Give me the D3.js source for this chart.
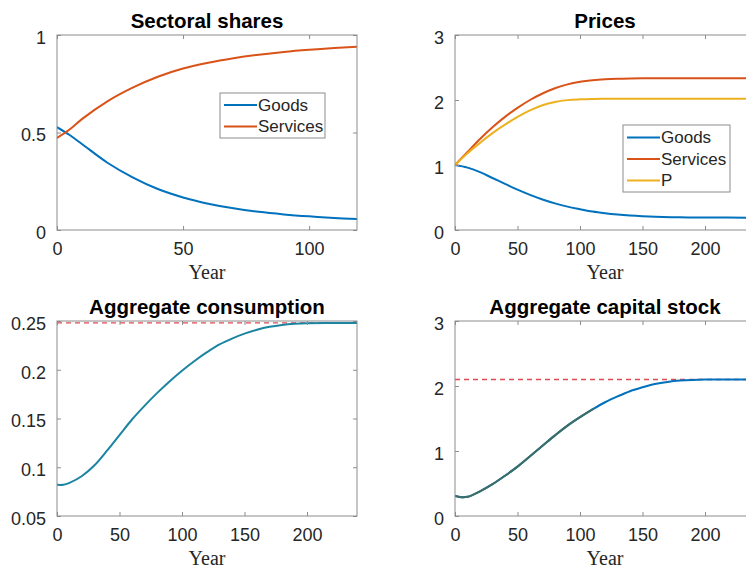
<!DOCTYPE html>
<html>
<head>
<meta charset="utf-8">
<script src="https://cdn.jsdelivr.net/npm/d3@7"></script>
<style>
  html, body { margin: 0; padding: 0; background: #ffffff; overflow: hidden; }
  svg { display: block; }
</style>
</head>
<body>
<svg id="chart" width="746" height="572"></svg>
<script>
// ---------------- DATA ----------------
const shareYears     = [0, 5, 10, 20, 30, 40, 50, 60, 70, 80, 90, 100, 110, 119];
const goodsShare     = [0.527, 0.487, 0.44, 0.345, 0.27, 0.21, 0.167, 0.135, 0.111, 0.093, 0.08, 0.07, 0.062, 0.056];
const servicesShare  = [0.472, 0.515, 0.57, 0.66, 0.73, 0.786, 0.828, 0.858, 0.881, 0.899, 0.913, 0.924, 0.933, 0.94];

const priceYears     = [0, 10, 20, 30, 40, 50, 60, 70, 80, 90, 100, 110, 120, 130, 140, 150, 160, 180, 200, 240];
const goodsPrice     = [1.0, 0.96, 0.89, 0.80, 0.71, 0.62, 0.54, 0.47, 0.41, 0.36, 0.32, 0.283, 0.257, 0.237, 0.222, 0.211, 0.203, 0.195, 0.192, 0.19];
const servicesPrice  = [1.0, 1.2, 1.4, 1.58, 1.74, 1.88, 2.0, 2.1, 2.18, 2.24, 2.28, 2.305, 2.32, 2.328, 2.332, 2.334, 2.335, 2.335, 2.335, 2.335];
const aggPrice       = [1.0, 1.18, 1.34, 1.49, 1.62, 1.74, 1.84, 1.92, 1.97, 1.998, 2.01, 2.016, 2.019, 2.02, 2.02, 2.02, 2.02, 2.02, 2.02, 2.02];

const consYears      = [0, 5, 10, 20, 30, 40, 50, 60, 70, 80, 90, 100, 110, 120, 130, 140, 150, 160, 170, 180, 190, 200, 220, 240];
const consumption    = [0.082, 0.082, 0.084, 0.091, 0.102, 0.117, 0.133, 0.149, 0.163, 0.176, 0.188, 0.199, 0.209, 0.218, 0.226, 0.232, 0.237, 0.241, 0.244, 0.246, 0.2472, 0.2478, 0.248, 0.248];
const consSteady     = 0.248;

const capYears       = [0, 5, 10, 20, 30, 40, 50, 60, 70, 80, 90, 100, 110, 120, 130, 140, 150, 160, 170, 180, 190, 200, 220, 240];
const capital        = [0.31, 0.29, 0.295, 0.38, 0.49, 0.62, 0.76, 0.92, 1.08, 1.24, 1.39, 1.52, 1.64, 1.75, 1.84, 1.92, 1.98, 2.03, 2.062, 2.083, 2.094, 2.099, 2.1, 2.1];
const capSteady      = 2.1;
const capDarkUntil   = 110;

const titles   = ["Sectoral shares", "Prices", "Aggregate consumption", "Aggregate capital stock"];
const xLabel   = "Year";
const xTicksShort = [0, 50, 100];
const xTicksLong  = [0, 50, 100, 150, 200];
const yTicksShares = [0, 0.5, 1];
const yTicksPrices = [0, 1, 2, 3];
const yTicksCons   = [0.05, 0.1, 0.15, 0.2, 0.25];
const yTicksCap    = [0, 1, 2, 3];
const shareLegend  = ["Goods", "Services"];
const priceLegend  = ["Goods", "Services", "P"];

// ---------------- STYLE ----------------
const C_BLUE = "#0072BD", C_ORANGE = "#D95319", C_YELLOW = "#EDB120";
const C_TEAL = "#1b84a0", C_DARK = "#3c6e66", C_RED = "#de4a52";
const AXIS_COLOR = "#8c8c8c", TEXT_COLOR = "#262626";
const SANS = "'Liberation Sans', Arial, Helvetica, sans-serif";
const SERIF = "'Liberation Serif', 'Times New Roman', serif";

const svg = d3.select("#chart");
const W = 300, H = 195;
const panels = [
  {left: 57,  top: 35,  xDomain: [0, 119], yDomain: [0, 1],     xTicks: xTicksShort, yTicks: yTicksShares, fmt: d3.format("")},
  {left: 455, top: 35,  xDomain: [0, 240], yDomain: [0, 3],     xTicks: xTicksLong,  yTicks: yTicksPrices, fmt: d3.format("")},
  {left: 57,  top: 321, xDomain: [0, 240], yDomain: [0.05, 0.25], xTicks: xTicksLong, yTicks: yTicksCons, fmt: d3.format("")},
  {left: 455, top: 321, xDomain: [0, 240], yDomain: [0, 3],     xTicks: xTicksLong,  yTicks: yTicksCap,    fmt: d3.format("")}
];

function drawPanel(p, i) {
  const g = svg.append("g").attr("transform", `translate(${p.left},${p.top})`);
  const x = d3.scaleLinear().domain(p.xDomain).range([0, W]);
  const y = d3.scaleLinear().domain(p.yDomain).range([H, 0]);
  p.x = x; p.y = y; p.g = g;

  g.append("clipPath").attr("id", "clip" + i)
    .append("rect").attr("x", 0).attr("y", 0).attr("width", W).attr("height", H);
  p.plot = g.append("g").attr("clip-path", `url(#clip${i})`);

  const xb = g.append("g").attr("transform", `translate(0,${H})`)
    .call(d3.axisBottom(x).tickValues(p.xTicks).tickSizeInner(-4).tickSizeOuter(0).tickPadding(10).tickFormat(p.fmt));
  const xt = g.append("g")
    .call(d3.axisTop(x).tickValues(p.xTicks).tickSizeInner(-4).tickSizeOuter(0).tickFormat(""));
  const yl = g.append("g")
    .call(d3.axisLeft(y).tickValues(p.yTicks).tickSizeInner(-4).tickSizeOuter(0).tickPadding(11).tickFormat(p.fmt));
  const yr = g.append("g").attr("transform", `translate(${W},0)`)
    .call(d3.axisRight(y).tickValues(p.yTicks).tickSizeInner(-4).tickSizeOuter(0).tickFormat(""));

  [xb, xt, yl, yr].forEach(a => {
    a.select(".domain").remove();
    a.selectAll(".tick line").attr("stroke", AXIS_COLOR).attr("stroke-width", 1);
    a.selectAll(".tick text").attr("fill", TEXT_COLOR).style("font-family", SANS).style("font-size", "18px");
  });
  xb.selectAll(".tick text").attr("dy", "0.71em").attr("y", 12);
  yl.selectAll(".tick text").attr("dy", "0.35em").attr("y", 2);

  g.append("rect").attr("x", 0).attr("y", 0).attr("width", W).attr("height", H)
    .attr("fill", "none").attr("stroke", AXIS_COLOR).attr("stroke-width", 1);

  g.append("text").attr("x", W / 2).attr("y", -7).attr("text-anchor", "middle")
    .style("font-family", SANS).style("font-weight", "bold").style("font-size", "20.5px")
    .attr("fill", "#000").text(titles[i]);

  g.append("text").attr("x", W / 2).attr("y", H + 49).attr("text-anchor", "middle")
    .style("font-family", SERIF).style("font-size", "20px")
    .attr("fill", TEXT_COLOR).text(xLabel);
}

function addLine(p, xs, ys, color, width, dash) {
  const data = xs.map((d, k) => [d, ys[k]]);
  const line = d3.line().x(d => p.x(d[0])).y(d => p.y(d[1])).curve(d3.curveCatmullRom.alpha(0.5));
  const path = p.plot.append("path").datum(data).attr("d", line)
    .attr("fill", "none").attr("stroke", color).attr("stroke-width", width)
    .attr("stroke-linejoin", "round").attr("stroke-linecap", "round");
  if (dash) path.attr("stroke-dasharray", dash).attr("stroke-linecap", "butt");
  return path;
}

function addLegend(p, box, entries, colors) {
  const g = svg.append("g");
  g.append("rect").attr("x", box.x).attr("y", box.y).attr("width", box.w).attr("height", box.h)
    .attr("fill", "#fff").attr("stroke", AXIS_COLOR).attr("stroke-width", 1);
  entries.forEach((e, k) => {
    const cy = box.y + box.first + k * box.step;
    g.append("line").attr("x1", box.x + 4).attr("x2", box.x + 37).attr("y1", cy).attr("y2", cy)
      .attr("stroke", colors[k]).attr("stroke-width", 2);
    g.append("text").attr("x", box.x + 38).attr("y", cy).attr("dy", "0.35em")
      .style("font-family", SANS).style("font-size", "17px").attr("fill", TEXT_COLOR).text(e);
  });
}

panels.forEach(drawPanel);

addLine(panels[0], shareYears, goodsShare, C_BLUE, 2);
addLine(panels[0], shareYears, servicesShare, C_ORANGE, 2);
addLegend(panels[0], {x: 220, y: 93, w: 105, h: 45, first: 12, step: 21.5}, shareLegend, [C_BLUE, C_ORANGE]);

addLine(panels[1], priceYears, goodsPrice, C_BLUE, 2);
addLine(panels[1], priceYears, servicesPrice, C_ORANGE, 2);
addLine(panels[1], priceYears, aggPrice, C_YELLOW, 2);
addLegend(panels[1], {x: 623, y: 125, w: 107, h: 67, first: 12.5, step: 21.5}, priceLegend, [C_BLUE, C_ORANGE, C_YELLOW]);

addLine(panels[2], [panels[2].xDomain[0], panels[2].xDomain[1]], [consSteady, consSteady], C_RED, 1.3, "5,4");
addLine(panels[2], consYears, consumption, C_TEAL, 2);

addLine(panels[3], [panels[3].xDomain[0], panels[3].xDomain[1]], [capSteady, capSteady], C_RED, 1.3, "5,4");
addLine(panels[3], capYears, capital, C_BLUE, 2);
const darkIdx = capYears.map((d, k) => k).filter(k => capYears[k] <= capDarkUntil);
addLine(panels[3], darkIdx.map(k => capYears[k]), darkIdx.map(k => capital[k]), C_DARK, 2);
</script>
</body>
</html>
